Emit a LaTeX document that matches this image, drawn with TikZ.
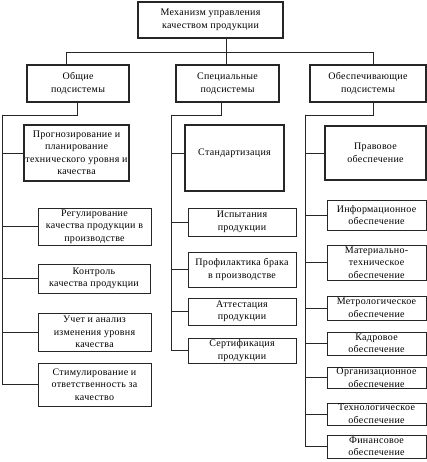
\documentclass[tikz,border=0pt]{standalone}
\usepackage{fontspec}
\setmainfont{Liberation Serif}[LetterSpace=3]
\tikzset{
  box/.style={draw=black!85, line width=0.8pt, inner sep=0pt, outer sep=0pt, align=center,
    font=\fontsize{10}{12.5}\selectfont},
  thick box/.style={line width=1.1pt},
  txt/.style={inner sep=0pt, align=center, font=\fontsize{10}{12.5}\selectfont},
  conn/.style={draw=black!85, line width=0.8pt}
}
\newcommand\bx[7][]{\node[box,minimum width={(#5-#3)*1pt},minimum height={(#6-#4)*1pt},#1] (#2) at ({(#3+#5)/2},{(#4+#6)/2}) {#7};}
\begin{document}
\begin{tikzpicture}[x=1pt,y=-1pt]
\fill[white] (0,0) rectangle (427,462);
\useasboundingbox (0,0) rectangle (427,462);
% level 1
\bx[thick box]{top}{138}{2}{283}{38}{Механизм управления\\качеством продукции}
% level 2
\bx[thick box]{g1}{27}{65}{129}{102}{Общие\\подсистемы}
\bx[thick box]{g2}{176}{65}{279}{102}{Специальные\\подсистемы}
\bx[thick box]{g3}{310}{65}{426}{102}{Обеспечивающие\\подсистемы}
% column 1
\bx[thick box]{a1}{24}{125}{129}{181}{Прогнозирование и\\планирование\\технического уровня и\\качества}
\bx{a2}{38}{208}{151}{245}{Регулирование\\качества продукции в\\производстве}
\bx{a3}{38}{264}{150}{293}{Контроль\\качества продукции}
\bx{a4}{38}{313}{151}{351}{Учет и анализ\\изменения уровня\\качества}
\bx{a5}{38}{363}{151}{406}{Стимулирование и\\ответственность за\\качество}
% column 2
\bx[thick box]{b1}{185}{125}{284}{191}{}
\node[txt] (b1t) at (234.5,153) {Стандартизация};
\bx{b2}{188}{208}{296}{236}{Испытания\\продукции}
\bx{b3}{188}{252}{296}{287}{Профилактика брака\\в производстве}
\bx{b4}{188}{298}{296}{325}{Аттестация\\продукции}
\bx{b5}{188}{338}{296}{363}{Сертификация\\продукции}
% column 3
\bx[thick box]{c1}{325}{126}{426}{180}{Правовое\\обеспечение}
\bx{c2}{327}{200}{426}{230}{Информационное\\обеспечение}
\bx{c3}{327}{245}{426}{280}{Материально-\\техническое\\обеспечение}
\bx{c4}{327}{296}{426}{320}{Метрологическое\\обеспечение}
\bx{c5}{327}{332}{426}{355}{Кадровое\\обеспечение}
\bx{c6}{327}{367}{426}{388}{Организационное\\обеспечение}
\bx{c7}{327}{403}{426}{425}{Технологическое\\обеспечение}
\bx{c8}{327}{435}{426}{458}{Финансовое\\обеспечение}
% connectors top
\coordinate (h1) at (66,52);
\coordinate (h2) at (226,52);
\coordinate (h3) at (373,52);
\draw[conn] (top.south -| h2) -- (g2.north -| h2);
\draw[conn] (g1.north -| h1) |- (h3) -- (g3.north -| h3);
% spines
\coordinate (s1) at (2,115);
\coordinate (s2) at (171,115);
\coordinate (s3) at (305,115);
\draw[conn] (g1.south -| 77,0) |- (s1);
\draw[conn] (g2.south -| 221,0) |- (s2);
\draw[conn] (g3.south -| 373,0) |- (s3);
\foreach \n in {a1,a2,a3,a4,a5} \draw[conn] (s1) |- (\n.west);
\draw[conn] (s2) |- (b1.west |- b1t);
\foreach \n in {b2,b3,b4,b5} \draw[conn] (s2) |- (\n.west);
\foreach \n in {c1,c2,c3,c4,c5,c6,c7,c8} \draw[conn] (s3) |- (\n.west);
\end{tikzpicture}
\end{document}
